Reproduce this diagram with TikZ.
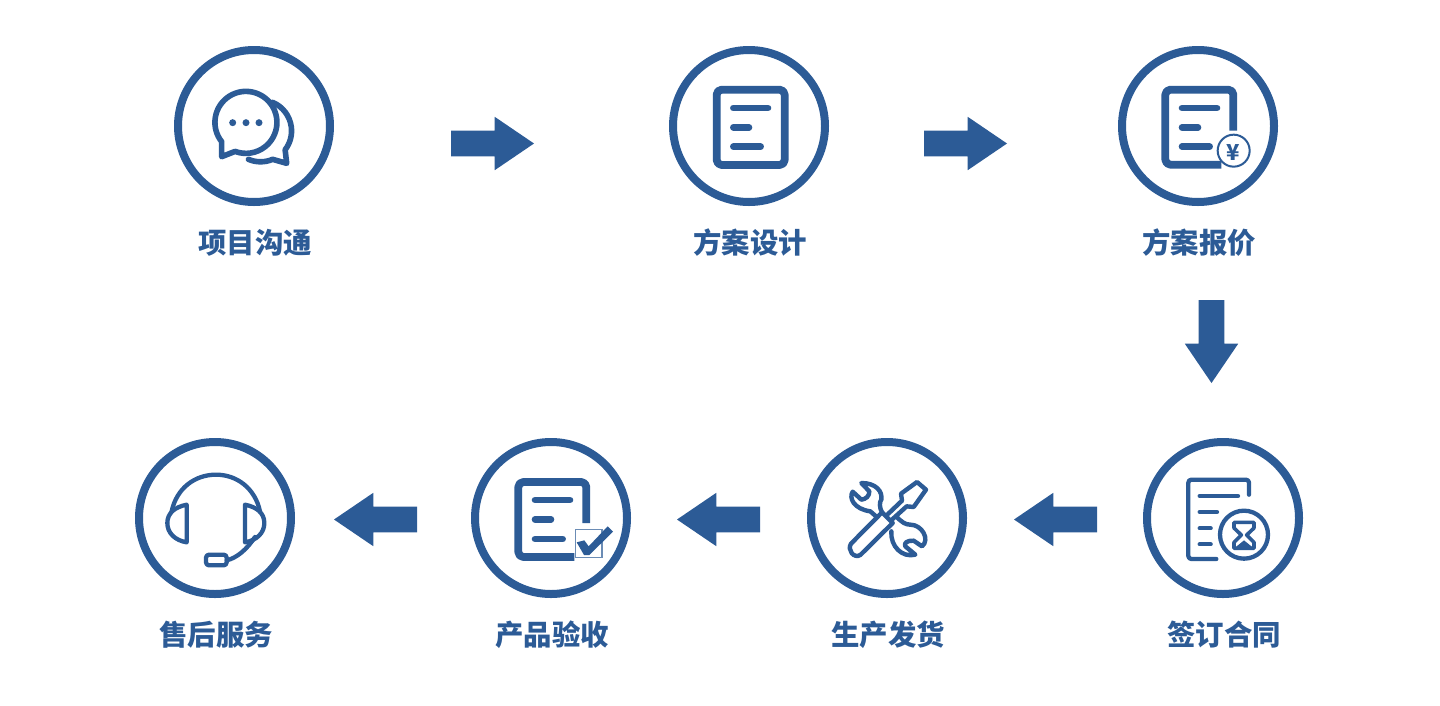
\documentclass[tikz,border=0pt]{standalone}
\usepackage{fontspec}
\setmainfont{Noto Sans CJK SC}
\usetikzlibrary{shapes.arrows}
\definecolor{brandblue}{HTML}{2C5B96}
\tikzset{
  ring/.style={circle,draw=brandblue,line width=8pt,fill=white,minimum size=152pt,inner sep=0pt},
  steplabel/.style={text=brandblue,font=\fontsize{28.4pt}{32pt}\selectfont\bfseries,inner sep=0pt},
  blockarrow/.style={single arrow,fill=brandblue,inner sep=0pt,outer sep=0pt,
    text width=0pt,text height=25.5pt,text depth=0pt,minimum height=83pt,minimum width=53pt,
    single arrow tip angle=68.4,single arrow head extend=13.75pt,anchor=tail},
  icon/.style={x=0.33333pt,y=-0.33333pt},
  ink/.style={draw=brandblue,line cap=round,line join=round},
  heavy/.style={ink,line width=7.8pt},
  medium/.style={ink,line width=6.6pt},
  thin/.style={ink,line width=4.3pt},
}
\begin{document}
\begin{tikzpicture}[x=1pt,y=-1pt]
\useasboundingbox (0,0) rectangle (1440,705);
% rings
\node[ring] (r1) at (254,126) {};
\node[ring] (r2) at (749,126) {};
\node[ring] (r3) at (1198,126) {};
\node[ring] (r4) at (1223,518) {};
\node[ring] (r5) at (887,518) {};
\node[ring] (r6) at (551,518) {};
\node[ring] (r7) at (215,518) {};
% labels
\node[steplabel] (t1) at (255,242.5) {项目沟通};
\node[steplabel] (t2) at (750,242.5) {方案设计};
\node[steplabel] (t3) at (1199,242.5) {方案报价};
\node[steplabel] (t4) at (1224,634.5) {签订合同};
\node[steplabel] (t5) at (888,634.5) {生产发货};
\node[steplabel] (t6) at (552,634.5) {产品验收};
\node[steplabel] (t7) at (216,634.5) {售后服务};
% block arrows
\node[blockarrow] (a1) at (451,143.5) {};
\node[blockarrow] (a2) at (924,143.5) {};
\node[blockarrow,rotate=-90] (a3) at (1211.5,300) {};
\node[blockarrow,rotate=180] (a4) at (1097,519.5) {};
\node[blockarrow,rotate=180] (a5) at (760,519.5) {};
\node[blockarrow,rotate=180] (a6) at (417,519.5) {};
% chat icon
\begin{scope}[shift={(170,40)},icon]
  \draw[ink,line width=5.6pt] (308,187) arc[start angle=67,end angle=-37.5,radius=31pt] -- (350,370) -- (308,358) arc[start angle=-67,end angle=-113,radius=31pt];
  \draw[ink,line width=5.6pt,fill=white] (155,305) arc[start angle=218.5,end angle=-110.5,radius=31pt] -- (155,350) -- cycle;
  \fill[brandblue] (188,248) circle[radius=3.5pt] (228,248) circle[radius=3.5pt] (267,248) circle[radius=3.5pt];
\end{scope}
% plain document icon
\begin{scope}[shift={(664,40)},icon]
  \draw[heavy,rounded corners=5pt] (158,149) rectangle (362,375);
  \draw[medium] (208,204) -- (312,204) (208,262) -- (255,262) (208,320) -- (290,320);
\end{scope}
% priced document icon
\begin{scope}[shift={(1113,40)},icon]
  \draw[heavy,rounded corners=5pt,line cap=butt] (361,272) -- (361,149) -- (157,149) -- (157,374) -- (325,374);
  \draw[medium] (207,204) -- (312,204) (207,262) -- (255,262) (207,320) -- (290,320);
  \draw[ink,line width=2pt,fill=white] (362,332) circle[radius=16pt];
  \node[text=brandblue,font=\fontsize{22pt}{22pt}\selectfont\bfseries,inner sep=0pt] (yen) at (362,337) {¥};
\end{scope}
% contract icon
\begin{scope}[shift={(1138,433)},icon]
  \draw[thin,rounded corners=3pt] (333,185) -- (333,140) -- (151,140) -- (151,378) -- (235,378);
  \draw[thin] (185,189) -- (300,189) (185,237) -- (237,237) (185,286) -- (218,286) (185,334) -- (218,334);
  \draw[thin] (318,305) circle[radius=24pt];
  \draw[ink,line width=3.6pt] (288,268) -- (348,268) -- (348,285) -- (326,306) -- (348,328) -- (348,346) -- (288,346) -- (288,328) -- (310,306) -- (288,285) -- cycle;
  \fill[brandblue] (318,322) -- (345,344) -- (291,344) -- cycle;
\end{scope}
% tools icon
\begin{scope}[shift={(802,433)},icon]
  \draw[ink,line width=4.4pt] (240,238) .. controls (232,225) and (232,205) .. (238,200) .. controls (242,175) and (222,150) .. (178,150) -- (202,175) .. controls (202,190) and (192,198) .. (178,200) -- (152,176) .. controls (140,195) and (155,228) .. (205,235) -- (222,250);
  \draw[ink,line width=4.4pt] (282,250) .. controls (300,268) and (310,275) .. (325,275) .. controls (360,275) and (385,320) .. (360,340) -- (335,323) .. controls (315,322) and (305,330) .. (310,340) -- (340,365) .. controls (300,375) and (265,340) .. (268,295);
  \draw[ink,line width=4.4pt] (240,238) -- (147,332) .. controls (135,350) and (155,378) .. (175,366) -- (272,270) -- cycle;
  \draw[ink,line width=4.4pt] (258,243) -- (300,203) -- (297,182) -- (345,147) -- (372,170) -- (335,222) -- (314,220) -- (272,258);
\end{scope}
% accepted document icon
\begin{scope}[shift={(466,433)},icon]
  \draw[heavy,rounded corners=5pt,line cap=butt] (361,270) -- (361,147) -- (157,147) -- (157,372) -- (325,372);
  \draw[medium] (207,201) -- (312,201) (207,259) -- (255,259) (207,318) -- (290,318);
  \draw[draw=brandblue!70,line width=1.6pt,fill=white] (328,290) rectangle (408,373);
  \fill[brandblue] (332,328) -- (355,322) -- (368,340) -- (425,280) -- (441,296) -- (370,366) -- (354,366) -- cycle;
\end{scope}
% headset icon
\begin{scope}[shift={(130,433)},icon]
  \draw[thin] (125,235) .. controls (140,165) and (195,125) .. (258,125) .. controls (320,125) and (375,165) .. (390,235);
  \draw[thin] (170,215) -- (170,328) .. controls (135,322) and (112,300) .. (112,270) .. controls (112,240) and (135,222) .. (170,215) -- cycle;
  \draw[thin] (345,215) -- (345,328) .. controls (380,322) and (403,300) .. (403,270) .. controls (403,240) and (380,222) .. (345,215) -- cycle;
  \draw[thin] (375,312) .. controls (350,350) and (320,375) .. (290,382);
  \draw[thin,rounded corners=3pt] (228,365) rectangle (290,397);
\end{scope}
\end{tikzpicture}
\end{document}
